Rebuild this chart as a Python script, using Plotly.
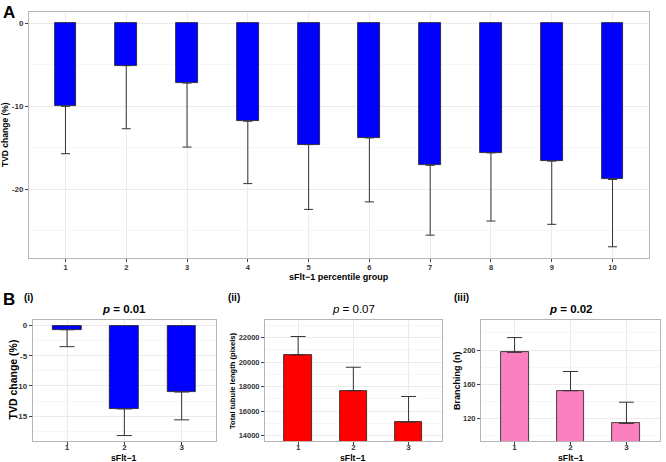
import plotly.graph_objects as go

# ---------------- data ----------------
groups_a = [1, 2, 3, 4, 5, 6, 7, 8, 9, 10]
tvd_a = [-10.0, -5.1, -7.2, -11.8, -14.6, -13.8, -17.1, -15.6, -16.6, -18.8]
tvd_a_lower = [-15.7, -12.7, -14.9, -19.3, -22.4, -21.5, -25.5, -23.8, -24.2, -26.9]

groups_b = [1, 2, 3]
tvd_b = [-0.7, -13.8, -11.0]
tvd_b_lower = [-3.5, -18.2, -15.6]
length_b = [20600, 17670, 15100]
length_b_upper = [22100, 19590, 17200]
branch_b = [197.3, 152.6, 114.5]
branch_b_upper = [214.5, 175.0, 139.2]

a_yticks = [0, -10, -20]
a_yticklabels = ["0", "-10", "-20"]
b1_yticks = [0, -5, -10, -15]
b1_yticklabels = ["0", "-5", "-10", "-15"]
b2_yticks = [14000, 16000, 18000, 20000, 22000]
b2_yticklabels = ["14000", "16000", "18000", "20000", "22000"]
b3_yticks = [120, 160, 200]
b3_yticklabels = ["120", "160", "200"]

W, H = 666, 462
FONT = "Liberation Sans, Arial, Helvetica, sans-serif"


def fx(px):
    return px / W


def fy(py):
    return 1 - py / H


fig = go.Figure()

EB_COLOR = "#333333"
LINE = "#1a1a1a"


def add_bars(x, y, ends, color, width, axis, capw):
    neg = [max(v - e, 0) for v, e in zip(y, ends)]
    pos = [max(e - v, 0) for v, e in zip(y, ends)]
    fig.add_trace(go.Bar(
        x=x, y=y, width=width,
        marker=dict(color=color, line=dict(color=LINE, width=0.8)),
        error_y=dict(type="data", symmetric=False, array=pos, arrayminus=neg,
                     color=EB_COLOR, thickness=1, width=capw),
        xaxis="x" + axis if axis != "1" else "x",
        yaxis="y" + axis if axis != "1" else "y",
        showlegend=False, hoverinfo="skip",
    ))


add_bars(groups_a, tvd_a, tvd_a_lower, "#0000FF", 0.36, "1", 4.5)
add_bars(groups_b, tvd_b, tvd_b_lower, "#0000FF", 0.5, "2", 7.5)
add_bars(groups_b, length_b, length_b_upper, "#FF0000", 0.5, "3", 7.5)
add_bars(groups_b, branch_b, branch_b_upper, "#FA80C0", 0.5, "4", 7.5)


def xaxis_cfg(dom, anchor, ticks, tsize, standoff):
    return dict(domain=dom, anchor=anchor, range=[0.4, len(ticks) + 0.6],
                tickvals=ticks, ticktext=[str(t) for t in ticks],
                showline=True, mirror=True, linecolor="#b5b5b5", linewidth=1,
                showgrid=True, gridcolor="#ebebeb", gridwidth=1, zeroline=False,
                ticks="outside", ticklen=3, tickcolor="#444", tickwidth=1,
                ticklabelstandoff=standoff,
                tickfont=dict(family=FONT, size=tsize, color="#333", weight="bold"))


def yaxis_cfg(dom, anchor, rng, tv, tt, tsize):
    minor = [(tv[i] + tv[i + 1]) / 2 for i in range(len(tv) - 1)]
    step = tv[1] - tv[0]
    minor = [tv[0] - step / 2] + minor + [tv[-1] + step / 2]
    return dict(domain=dom, anchor=anchor, range=rng,
                tickvals=tv, ticktext=tt,
                showline=True, mirror=True, linecolor="#b5b5b5", linewidth=1,
                showgrid=True, gridcolor="#ebebeb", gridwidth=1, zeroline=False,
                ticks="outside", ticklen=3, tickcolor="#444", tickwidth=1,
                tickfont=dict(family=FONT, size=tsize, color="#333", weight="bold"),
                minor=dict(tickvals=minor, showgrid=True, gridcolor="#f6f6f6",
                           gridwidth=1, ticks=""))


TOP_B, BOT_B = 320, 441
fig.update_layout(
    xaxis=xaxis_cfg([fx(29), fx(649)], "y", groups_a, 7.5, -1),
    yaxis=yaxis_cfg([fy(258), fy(12)], "x", [-28.25, 1.35], a_yticks, a_yticklabels, 8),
    xaxis2=xaxis_cfg([fx(32.7), fx(216)], "y2", groups_b, 8, -5),
    yaxis2=yaxis_cfg([fy(BOT_B), fy(TOP_B)], "x2", [-19.1, 0.91], b1_yticks, b1_yticklabels, 8),
    xaxis3=xaxis_cfg([fx(265), fx(441.7)], "y3", groups_b, 8, -5),
    yaxis3=yaxis_cfg([fy(BOT_B), fy(TOP_B)], "x3", [13560, 23450], b2_yticks, b2_yticklabels, 7.5),
    xaxis4=xaxis_cfg([fx(481), fx(660)], "y4", groups_b, 8, -5),
    yaxis4=yaxis_cfg([fy(BOT_B), fy(TOP_B)], "x4", [94, 235], b3_yticks, b3_yticklabels, 7.5),
)


def ann(text, x, y, size, bold=True, angle=0, xanchor="center", yanchor="middle"):
    fig.add_annotation(text=text, x=fx(x), y=fy(y), xref="paper", yref="paper",
                       showarrow=False, textangle=angle, xanchor=xanchor, yanchor=yanchor,
                       font=dict(family=FONT, size=size, color="black",
                                 weight="bold" if bold else "normal"))


# panel labels
ann("A", 1, 1, 17, xanchor="left", yanchor="top")
ann("B", 1, 288, 17, xanchor="left", yanchor="top")
ann("(i)", 22, 297, 10, xanchor="left")
ann("(ii)", 226, 297, 10, xanchor="left")
ann("(iii)", 452, 297, 10, xanchor="left")

# titles
ann("<i>p</i> = 0.01", 124.4, 309, 11.5)
ann("<i>p</i> = 0.07", 353.4, 309, 11.5, bold=False)
ann("<i>p</i> = 0.02", 570.5, 309, 11.5)

# axis titles
ann("TVD change (%)", 5, 135, 8.5, angle=-90)
ann("sFlt\u22121 percentile group", 339, 277, 9)
ann("TVD change (%)", 12.5, 380, 10.5, angle=-90)
ann("Total tubule length (pixels)", 232, 380, 7.6, angle=-90)
ann("Branching (n)", 457, 381, 9, angle=-90)
ann("sFlt\u22121", 124.4, 457.5, 8.7)
ann("sFlt\u22121", 353.4, 457.5, 8.7)
ann("sFlt\u22121", 570.5, 457.5, 8.7)

fig.update_layout(
    width=W, height=H, margin=dict(l=0, r=0, t=0, b=0),
    paper_bgcolor="white", plot_bgcolor="white",
    bargap=0, showlegend=False,
    font=dict(family=FONT),
)

fig.write_html("out.html", config={"displayModeBar": False},
               post_script="document.body.style.margin='0';document.body.style.overflow='hidden';")
